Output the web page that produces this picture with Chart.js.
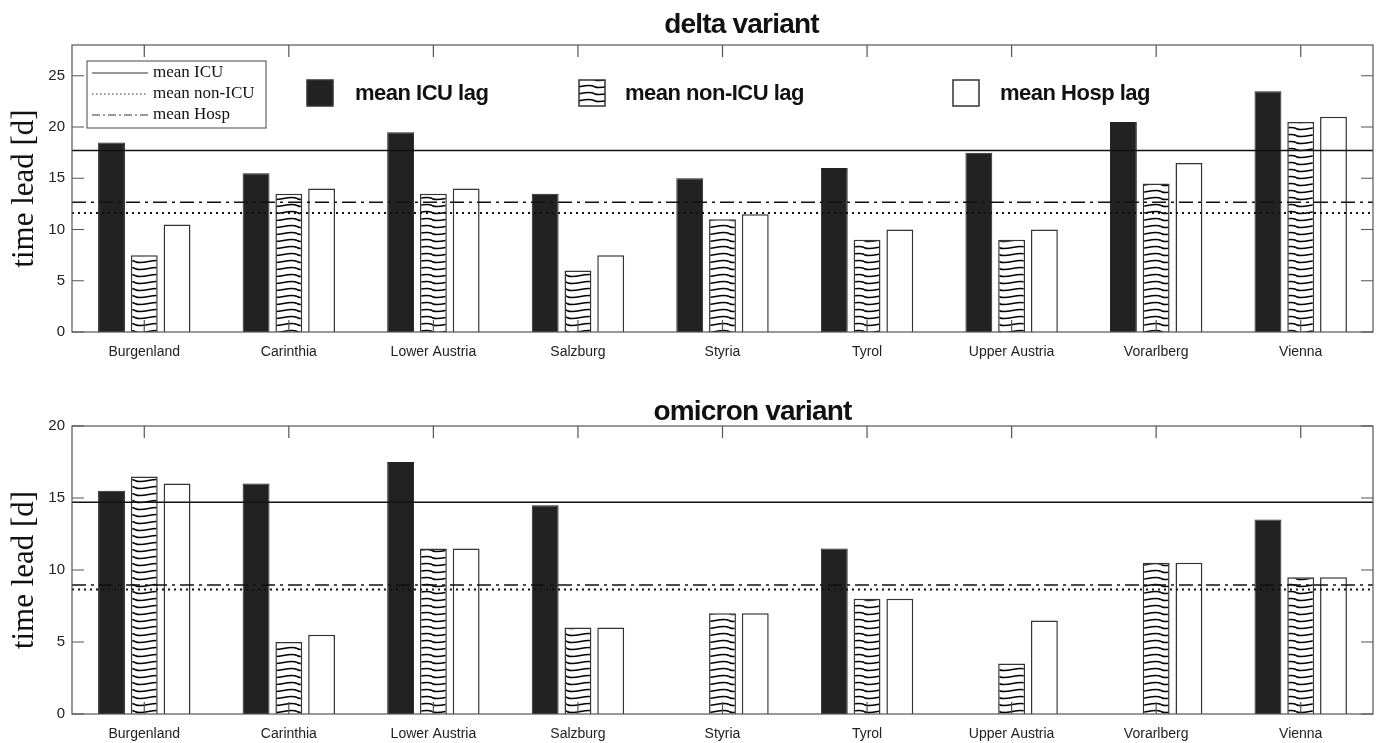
<!DOCTYPE html>
<html>
<head>
<meta charset="utf-8">
<script src="https://cdn.jsdelivr.net/npm/chart.js@4.4.1/dist/chart.umd.min.js"></script>
<style>
  body { margin: 0; background: #fff; }
  .wrap { position: absolute; left: 0; width: 1380px; }
  #top { top: 0; height: 370px; }
  #bottom { top: 380px; height: 363px; }
</style>
</head>
<body>
<div class="wrap" id="top"><canvas id="deltaChart"></canvas></div>
<div class="wrap" id="bottom"><canvas id="omicronChart"></canvas></div>
<script>
// categories (Austrian federal states)
const states = ['Burgenland', 'Carinthia', 'Lower Austria', 'Salzburg', 'Styria', 'Tyrol', 'Upper Austria', 'Vorarlberg', 'Vienna'];

// delta variant lags
const deltaICU    = [18.5, 15.5, 19.5, 13.5, 15, 16, 17.5, 20.5, 23.5];
const deltaNonICU = [7.5, 13.5, 13.5, 6, 11, 9, 9, 14.5, 20.5];
const deltaHosp   = [10.5, 14, 14, 7.5, 11.5, 10, 10, 16.5, 21];
const deltaMeans  = [17.7, 11.6, 12.65]; // ICU, non-ICU, Hosp

// omicron variant lags
const omicronICU    = [15.5, 16, 17.5, 14.5, null, 11.5, null, null, 13.5];
const omicronNonICU = [16.5, 5, 11.5, 6, 7, 8, 3.5, 10.5, 9.5];
const omicronHosp   = [16, 5.5, 11.5, 6, 7, 8, 6.5, 10.5, 9.5];
const omicronMeans  = [14.7, 8.65, 8.95];

const ink = '#222';
const sans = '"Liberation Sans", Arial, sans-serif';
const serif = '"Liberation Serif", "Times New Roman", serif';

// wavy hatch used for the non-ICU bars
function makeWaves() {
    const c = document.createElement('canvas');
    c.width = 27;
    c.height = 7;
    const g = c.getContext('2d');
    g.fillStyle = '#fff';
    g.fillRect(0, 0, c.width, c.height);
    g.strokeStyle = '#000';
    g.lineWidth = 1.6;
    g.beginPath();
    g.moveTo(0, 2.5);
    g.bezierCurveTo(7, 6.5, 20, -1.5, 27, 2.5);
    g.stroke();
    return g.createPattern(c, 'repeat');
}
const waves = makeWaves();

// title, frame, inward ticks and the mean lines
const framePlugin = {
    id: 'frame',
    afterDatasetsDraw(chart, args, opts) {
        const ctx = chart.ctx;
        const a = chart.chartArea;
        const x = chart.scales.x;
        const y = chart.scales.y;
        ctx.save();

        // mean lines
        const styles = [[], [2, 4], [14, 5, 3, 5]];
        opts.means.forEach((m, i) => {
            const py = y.getPixelForValue(m);
            ctx.beginPath();
            ctx.setLineDash(styles[i]);
            ctx.lineWidth = i === 1 ? 2 : 1.5;
            ctx.strokeStyle = '#111';
            ctx.moveTo(a.left, py);
            ctx.lineTo(a.right, py);
            ctx.stroke();
        });
        ctx.setLineDash([]);

        // box
        ctx.strokeStyle = '#555';
        ctx.lineWidth = 1.2;
        ctx.strokeRect(a.left, a.top, a.right - a.left, a.bottom - a.top);

        // ticks
        ctx.beginPath();
        x.ticks.forEach((t, i) => {
            const px = x.getPixelForTick(i);
            ctx.moveTo(px, a.top); ctx.lineTo(px, a.top + 12);
            ctx.moveTo(px, a.bottom); ctx.lineTo(px, a.bottom - 12);
        });
        y.ticks.forEach((t, i) => {
            const py = y.getPixelForTick(i);
            ctx.moveTo(a.left, py); ctx.lineTo(a.left + 12, py);
            ctx.moveTo(a.right, py); ctx.lineTo(a.right - 12, py);
        });
        ctx.stroke();

        // title
        ctx.font = 'bold 28px ' + sans;
        ctx.letterSpacing = '-0.8px';
        ctx.fillStyle = '#111';
        ctx.textAlign = 'center';
        ctx.textBaseline = 'alphabetic';
        ctx.fillText(opts.title, (a.left + a.right) / 2 + opts.titleShift, a.top - opts.titleGap);
        ctx.letterSpacing = '0px';
        ctx.textAlign = 'left';

        if (opts.legend) drawLegends(ctx, a);
        ctx.restore();
    }
};

function drawLegends(ctx, a) {
    // line legend box
    const bx = a.left + 15, by = a.top + 16;
    ctx.fillStyle = '#fff';
    ctx.fillRect(bx, by, 179, 67);
    ctx.strokeStyle = '#444';
    ctx.lineWidth = 1;
    ctx.strokeRect(bx, by, 179, 67);
    const names = ['mean ICU', 'mean non-ICU', 'mean Hosp'];
    const dashes = [[], [1.5, 2.5], [8, 3, 2, 3]];
    ctx.font = '17px ' + serif;
    ctx.textBaseline = 'middle';
    names.forEach((n, i) => {
        const ly = by + 12 + i * 21;
        ctx.beginPath();
        ctx.setLineDash(dashes[i]);
        ctx.strokeStyle = '#333';
        ctx.moveTo(bx + 5, ly);
        ctx.lineTo(bx + 61, ly);
        ctx.stroke();
        ctx.setLineDash([]);
        ctx.fillStyle = '#111';
        ctx.fillText(n, bx + 66, ly);
    });

    // bar legend
    const items = [
        { x: 235, fill: ink, text: 'mean ICU lag', tx: 283 },
        { x: 507, fill: waves, text: 'mean non-ICU lag', tx: 553 },
        { x: 881, fill: '#fff', text: 'mean Hosp lag', tx: 928 }
    ];
    ctx.font = 'bold 22px ' + sans;
    ctx.letterSpacing = '-0.5px';
    items.forEach(it => {
        const sx = a.left + it.x, sy = a.top + 35;
        ctx.fillStyle = it.fill;
        ctx.fillRect(sx, sy, 26, 26);
        ctx.strokeStyle = '#333';
        ctx.lineWidth = 1.5;
        ctx.strokeRect(sx, sy, 26, 26);
        ctx.fillStyle = '#111';
        ctx.fillText(it.text, a.left + it.tx, sy + 14);
    });
    ctx.letterSpacing = '0px';
}

function makeChart(canvasId, title, icu, nonIcu, hosp, means, yMax, xHeight, topPad, titleGap, titleShift, legend) {
    const ctx = document.getElementById(canvasId).getContext('2d');
    return new Chart(ctx, {
        type: 'bar',
        data: {
            labels: states,
            datasets: [
                { label: 'mean ICU lag', data: icu, backgroundColor: ink, borderColor: ink, borderWidth: 1 },
                { label: 'mean non-ICU lag', data: nonIcu, backgroundColor: waves, borderColor: '#333', borderWidth: 1.5 },
                { label: 'mean Hosp lag', data: hosp, backgroundColor: '#fff', borderColor: '#333', borderWidth: 1.5 }
            ]
        },
        options: {
            responsive: true,
            maintainAspectRatio: false,
            animation: false,
            datasets: { bar: { categoryPercentage: 0.68, barPercentage: 0.82 } },
            layout: { padding: { left: 4, right: 7, top: topPad, bottom: 2 } },
            plugins: {
                legend: { display: false },
                tooltip: { enabled: false },
                title: { display: false },
                frame: { means: means, legend: legend, title: title, titleGap: titleGap, titleShift: titleShift }
            },
            scales: {
                x: {
                    grid: { display: false, drawTicks: false },
                    border: { display: false },
                    ticks: { color: ink, padding: 12, maxRotation: 0, font: { family: sans, size: 14 } },
                    afterFit: s => { s.height = xHeight; }
                },
                y: {
                    min: 0,
                    max: yMax,
                    grid: { display: false, drawTicks: false },
                    border: { display: false },
                    ticks: { stepSize: 5, color: ink, padding: 7, font: { family: sans, size: 15 } },
                    afterBuildTicks: s => { s.ticks = s.ticks.filter(t => t.value % 5 === 0); },
                    afterFit: s => { s.width = 68; },
                    title: {
                        display: true,
                        text: 'time lead [d]',
                        color: '#111',
                        padding: { top: 2, bottom: 0 },
                        font: { family: serif, size: 31 }
                    }
                }
            }
        },
        plugins: [framePlugin]
    });
}

makeChart('deltaChart', 'delta variant', deltaICU, deltaNonICU, deltaHosp, deltaMeans, 28, 36, 45, 12, 19, true);
makeChart('omicronChart', 'omicron variant', omicronICU, omicronNonICU, omicronHosp, omicronMeans, 20, 27, 46, 6, 30, false);
</script>
</body>
</html>
